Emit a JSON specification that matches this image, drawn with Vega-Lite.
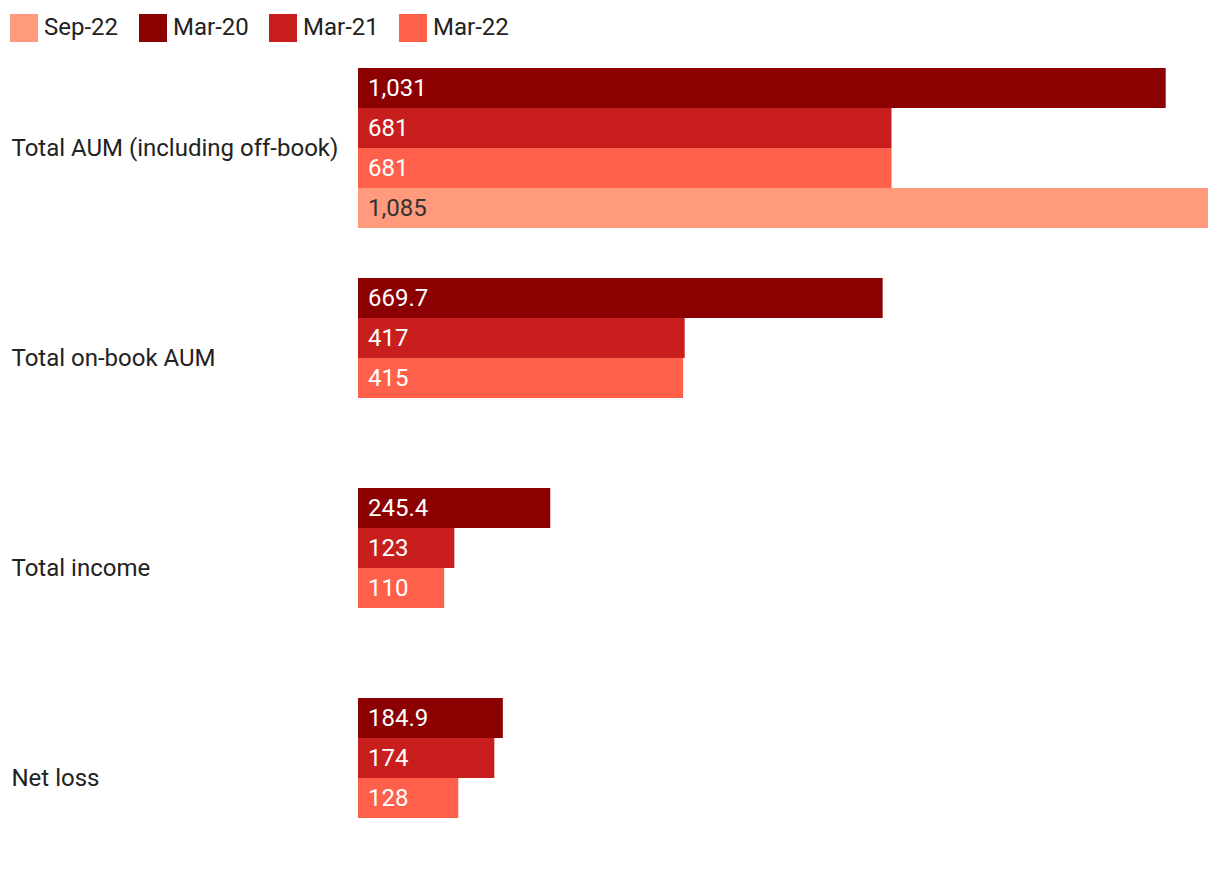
{
  "$schema": "https://vega.github.io/schema/vega-lite/v6.json",
  "width": 850,
  "height": 790,
  "padding": {"left": 10, "top": 14, "right": 12, "bottom": 12},
  "config": {
    "view": {"stroke": null},
    "font": "Roboto",
    "text": {"font": "Roboto"}
  },
  "data": {
    "values": [
      {"metric": "Total AUM (including off-book)", "period": "Mar-20", "value": 1031},
      {"metric": "Total AUM (including off-book)", "period": "Mar-21", "value": 681},
      {"metric": "Total AUM (including off-book)", "period": "Mar-22", "value": 681},
      {"metric": "Total AUM (including off-book)", "period": "Sep-22", "value": 1085},
      {"metric": "Total on-book AUM", "period": "Mar-20", "value": 669.7},
      {"metric": "Total on-book AUM", "period": "Mar-21", "value": 417},
      {"metric": "Total on-book AUM", "period": "Mar-22", "value": 415},
      {"metric": "Total income", "period": "Mar-20", "value": 245.4},
      {"metric": "Total income", "period": "Mar-21", "value": 123},
      {"metric": "Total income", "period": "Mar-22", "value": 110},
      {"metric": "Net loss", "period": "Mar-20", "value": 184.9},
      {"metric": "Net loss", "period": "Mar-21", "value": 174},
      {"metric": "Net loss", "period": "Mar-22", "value": 128}
    ]
  },
  "encoding": {
    "y": {
      "field": "metric",
      "type": "nominal",
      "sort": ["Total AUM (including off-book)", "Total on-book AUM", "Total income", "Net loss"],
      "scale": {"paddingInner": 0.2381, "paddingOuter": 0},
      "axis": {
        "title": null,
        "domain": false,
        "ticks": false,
        "tickSize": 0,
        "labelAlign": "left",
        "labelPadding": 347,
        "labelOffset": 1,
        "labelFont": "Roboto",
        "labelFontSize": 24,
        "labelColor": "#222222",
        "labelLimit": 400
      }
    },
    "yOffset": {
      "field": "period",
      "type": "nominal",
      "sort": ["Mar-20", "Mar-21", "Mar-22", "Sep-22"],
      "scale": {"domain": ["Mar-20", "Mar-21", "Mar-22", "Sep-22"], "paddingInner": 0, "paddingOuter": 0}
    }
  },
  "layer": [
    {
      "mark": {"type": "bar"},
      "encoding": {
        "x": {
          "field": "value",
          "type": "quantitative",
          "scale": {"domain": [0, 1085], "nice": false},
          "axis": null
        },
        "color": {
          "field": "period",
          "type": "nominal",
          "scale": {
            "domain": ["Sep-22", "Mar-20", "Mar-21", "Mar-22"],
            "range": ["#ff9a7d", "#8b0000", "#c81e1e", "#ff604b"]
          },
          "legend": {
            "title": null,
            "orient": "none",
            "direction": "horizontal",
            "legendX": -348,
            "legendY": -54,
            "symbolType": "square",
            "symbolSize": 784,
            "symbolStrokeWidth": 0,
            "symbolOpacity": 1,
            "labelFont": "Roboto",
            "labelFontSize": 24,
            "labelColor": "#222222",
            "labelOffset": 6,
            "columnPadding": 20
          }
        }
      }
    },
    {
      "mark": {"type": "text", "align": "left", "baseline": "middle", "dx": 10, "dy": 1, "fontSize": 24, "font": "Roboto"},
      "encoding": {
        "x": {"datum": 0, "type": "quantitative"},
        "text": {"field": "value", "type": "quantitative", "format": ","},
        "color": {
          "condition": {"test": "datum.period === 'Sep-22'", "value": "#333333"},
          "value": "#ffffff"
        }
      }
    }
  ]
}
